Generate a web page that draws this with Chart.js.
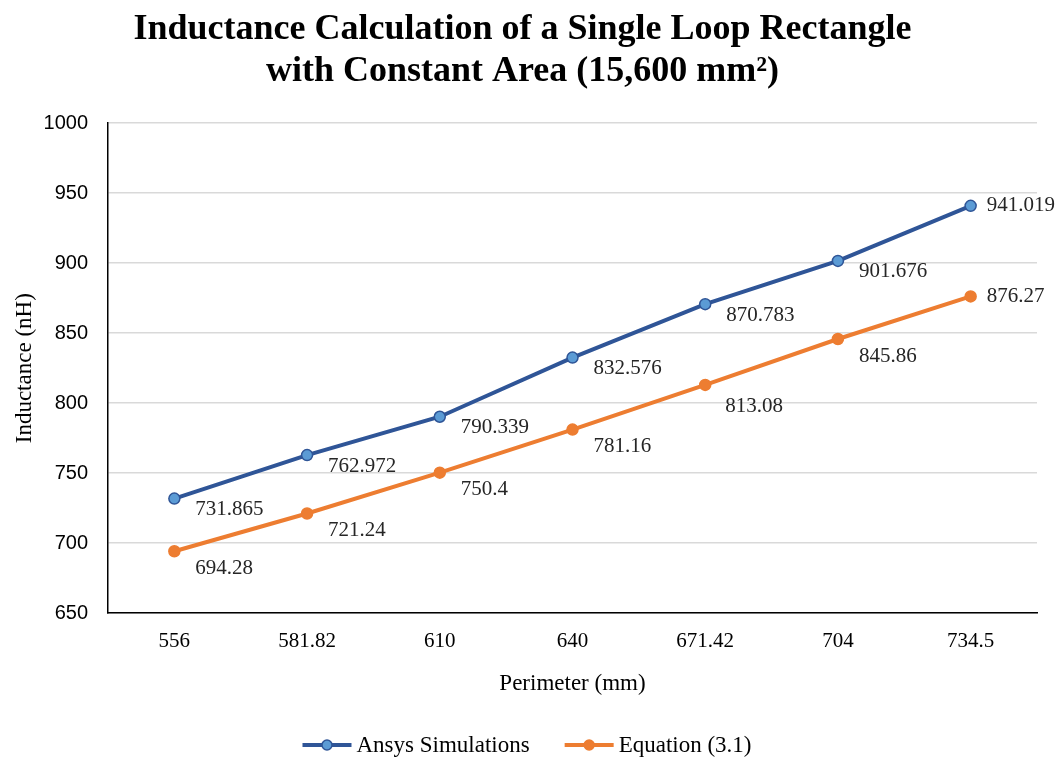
<!DOCTYPE html>
<html>
<head>
<meta charset="utf-8">
<script src="https://cdn.jsdelivr.net/npm/chart.js@4.4.1/dist/chart.umd.min.js"></script>
<style>
html,body{margin:0;padding:0;background:#fff;}
#wrap{width:1058px;height:762px;}
</style>
</head>
<body>
<div id="wrap"><canvas id="c" width="1058" height="762"></canvas></div>
<script>
const categories = ['556', '581.82', '610', '640', '671.42', '704', '734.5'];
const ansysValues = [731.865, 762.972, 790.339, 832.576, 870.783, 901.676, 941.019];
const equationValues = [694.28, 721.24, 750.4, 781.16, 813.08, 845.86, 876.27];
const ansysLabels = ['731.865', '762.972', '790.339', '832.576', '870.783', '901.676', '941.019'];
const equationLabels = ['694.28', '721.24', '750.4', '781.16', '813.08', '845.86', '876.27'];
const yTicks = [650, 700, 750, 800, 850, 900, 950, 1000];

const SERIF = '"Liberation Serif", "Times New Roman", serif';
const SANS = '"Liberation Sans", Arial, sans-serif';

const labelPlugin = {
  id: 'pointLabels',
  afterDatasetsDraw(chart) {
    const ctx = chart.ctx;
    const cfg = chart.options.plugins.pointLabels;
    ctx.save();
    ctx.font = '21px ' + SERIF;
    ctx.fillStyle = '#262626';
    ctx.textBaseline = 'middle';
    ctx.textAlign = 'left';
    chart.data.datasets.forEach((ds, di) => {
      const meta = chart.getDatasetMeta(di);
      meta.data.forEach((pt, i) => {
        const off = (cfg.special[di] && cfg.special[di][i]) || (i === meta.data.length - 1 ? cfg.last : cfg.normal[di]);
        ctx.fillText(ds.labelsText[i], pt.x + off[0], pt.y + off[1]);
      });
    });
    ctx.restore();
  }
};

const legendPlugin = {
  id: 'lineLegend',
  afterDraw(chart) {
    const ctx = chart.ctx;
    const cfg = chart.options.plugins.lineLegend;
    ctx.save();
    ctx.font = cfg.fontSize + 'px ' + SERIF;
    ctx.textBaseline = 'middle';
    ctx.textAlign = 'left';
    const items = chart.data.datasets.map(ds => ({ ds, w: ctx.measureText(ds.label).width }));
    let total = 0;
    items.forEach((it, i) => { total += cfg.lineW + cfg.gap + it.w + (i < items.length - 1 ? cfg.itemGap : 0); });
    let x = cfg.centerX - total / 2;
    const y = cfg.y;
    items.forEach(it => {
      const ds = it.ds;
      ctx.strokeStyle = ds.borderColor; ctx.lineWidth = 4; ctx.lineCap = 'butt';
      ctx.beginPath(); ctx.moveTo(x, y); ctx.lineTo(x + cfg.lineW, y); ctx.stroke();
      ctx.fillStyle = ds.pointBackgroundColor; ctx.strokeStyle = ds.pointBorderColor; ctx.lineWidth = 1.5;
      ctx.beginPath(); ctx.arc(x + cfg.lineW / 2, y, 5, 0, Math.PI * 2); ctx.fill(); ctx.stroke();
      x += cfg.lineW + cfg.gap;
      ctx.fillStyle = '#000';
      ctx.fillText(ds.label, x, y + 1);
      x += it.w + cfg.itemGap;
    });
    ctx.restore();
  }
};

new Chart(document.getElementById('c'), {
  type: 'line',
  data: {
    labels: categories,
    datasets: [
      {
        label: 'Ansys Simulations',
        data: ansysValues,
        labelsText: ansysLabels,
        borderColor: '#2F5597',
        backgroundColor: '#5B9BD5',
        pointBackgroundColor: '#5B9BD5',
        pointBorderColor: '#2F5597',
        pointBorderWidth: 1.5,
        pointRadius: 5.5,
        borderWidth: 4,
        tension: 0
      },
      {
        label: 'Equation (3.1)',
        data: equationValues,
        labelsText: equationLabels,
        borderColor: '#ED7D31',
        backgroundColor: '#ED7D31',
        pointBackgroundColor: '#ED7D31',
        pointBorderColor: '#ED7D31',
        pointBorderWidth: 1.5,
        pointRadius: 5.5,
        borderWidth: 4,
        tension: 0
      }
    ]
  },
  options: {
    responsive: false,
    animation: false,
    layout: { padding: { left: 8, right: 21, top: 6, bottom: 64 } },
    plugins: {
      pointLabels: {
        normal: [[21, 11], [21, 17]],
        last: [16, 0],
        special: { 1: { 4: [20, 22] } }
      },
      lineLegend: { centerX: 527, y: 745, fontSize: 23, lineW: 49, gap: 5, itemGap: 35 },
      title: {
        display: true,
        text: ['Inductance Calculation of a Single Loop Rectangle', 'with Constant Area (15,600 mm²)'],
        color: '#000',
        font: { family: SERIF, size: 36, weight: 'bold', lineHeight: 1.17 },
        padding: { top: 3, bottom: 30 }
      },
      legend: { display: false },
      tooltip: { enabled: false }
    },
    scales: {
      x: {
        offset: true,
        grid: { display: false, drawTicks: false },
        border: { display: true, color: '#000', width: 1.5 },
        ticks: { color: '#000', font: { family: SERIF, size: 21 }, padding: 16 },
        title: { display: true, text: 'Perimeter (mm)', color: '#000', font: { family: SERIF, size: 23 }, padding: { top: 0, bottom: 0 } }
      },
      y: {
        min: 650,
        max: 1000,
        afterBuildTicks(axis) { axis.ticks = yTicks.map(v => ({ value: v })); },
        afterFit(axis) { axis.width = 100; },
        grid: { color: '#D9D9D9', lineWidth: 1.5, drawTicks: false },
        border: { display: true, color: '#000', width: 1.5 },
        ticks: { color: '#000', font: { family: SANS, size: 20 }, padding: 20, callback: v => String(v) },
        title: { display: true, text: 'Inductance (nH)', color: '#000', font: { family: SERIF, size: 23 }, padding: { top: 3, bottom: 0 } }
      }
    }
  },
  plugins: [labelPlugin, legendPlugin]
});
</script>
</body>
</html>
